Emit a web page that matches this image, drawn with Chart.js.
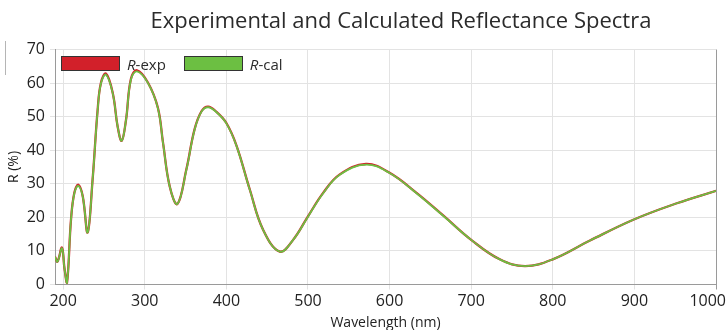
<!DOCTYPE html>
<html>
<head>
<meta charset="utf-8">
<script src="https://cdn.jsdelivr.net/npm/chart.js@4"></script>
<style>
  html, body { margin: 0; padding: 0; background: #fff; }
  #wrap { position: relative; width: 726px; height: 330px; font-family: "Open Sans", sans-serif; }
  #title {
    position: absolute; top: 4px; left: 0; width: 802px;
    text-align: center; font-size: 22px; color: #2b2b2b; white-space: nowrap;
  }
  #stray { position: absolute; left: 5px; top: 41px; width: 1px; height: 34px; background: #b5b5b5; }
  #legend { position: absolute; display: flex; align-items: center; font-size: 15px; color: #2b2b2b; }
  #legend .item { display: flex; align-items: center; margin-right: 18px; }
  #legend .box { width: 57px; height: 13px; border: 1.5px solid #333; margin-right: 7px; }
</style>
</head>
<body>
<div id="wrap">
  <canvas id="chart" width="726" height="330"></canvas>
  <div id="title">Experimental and Calculated Reflectance Spectra</div>
  <div id="stray"></div>
  <div id="legend">
    <div class="item"><span class="box" style="background:#d2202a"></span><span><i>R</i>-exp</span></div>
    <div class="item"><span class="box" style="background:#6cbf42"></span><span><i>R</i>-cal</span></div>
  </div>
</div>
<script>
// wavelength (nm)
const wavelength = [190, 193, 198.5, 201.5, 204.7, 209.6, 213.7, 218.6, 224, 230, 236, 242.3, 246.4, 252.5,
  260.7, 266.8, 271.7, 277, 283, 290.5, 304, 316, 322.4, 330.6, 340, 351, 361, 369.5, 377.6, 388, 400, 412.4, 428.7,
  445, 465.5, 481.8, 500, 518.6, 539, 571, 600, 633, 666, 700, 735, 766, 800, 845.6, 898.7, 952, 1000];

const rExp = [8.3, 6.8, 11.0, 5.0, 0.5, 19.3, 27.3, 29.7, 26.3, 15.5, 31, 52.2, 60.2, 62.8,
  57.1, 47, 42.8, 49, 61.2, 63.8, 60.1, 52.7, 42.2, 29.2, 24.0, 34.3, 46.2, 51.6, 53.0, 51.4, 48.1, 41.4, 28.3,
  16.3, 9.8, 13.3, 20.3, 27.3, 32.8, 35.9, 33.3, 27.3, 20.5, 13.3, 7.5, 5.5, 7.5, 13.1, 19.3, 24.2, 27.9];

const rCal = [8.3, 6.8, 10.8, 5.0, 0.5, 19.3, 27.2, 29.4, 26.2, 15.5, 31, 52, 60, 62.5,
  57, 47, 42.8, 49, 61, 63.5, 60, 52.6, 42.1, 29.2, 24.0, 34.2, 46.1, 51.5, 52.8, 51.3, 48.0, 41.3, 28.2,
  16.3, 9.8, 13.3, 20.2, 27.2, 32.7, 35.7, 33.2, 27.2, 20.4, 13.3, 7.5, 5.5, 7.5, 13.1, 19.3, 24.2, 27.9];

const xTicks = [200, 300, 400, 500, 600, 700, 800, 900, 1000];
const yTicks = [0, 10, 20, 30, 40, 50, 60, 70];

const FONT = "'Open Sans', sans-serif";
const GRID = "#e3e3e3";
const AXIS = "#9a9a9a";

function points(ys) {
  return wavelength.map((x, i) => ({ x: x, y: ys[i] }));
}

const chart = new Chart(document.getElementById("chart"), {
  type: "line",
  data: {
    datasets: [
      {
        label: "R-exp",
        data: points(rExp),
        borderColor: "#d2202a",
        borderWidth: 2.3,
        pointRadius: 0,
        tension: 0.4,
        order: 2,
      },
      {
        label: "R-cal",
        data: points(rCal),
        borderColor: "#6cbf42",
        borderWidth: 1.8,
        pointRadius: 0,
        tension: 0.4,
        order: 1,
      },
    ],
  },
  options: {
    responsive: false,
    animation: false,
    layout: { padding: { top: 49.5, right: 10, left: 0, bottom: 0 } },
    plugins: { legend: { display: false }, title: { display: false }, tooltip: { enabled: false } },
    scales: {
      x: {
        type: "linear",
        min: 190,
        max: 1000,
        afterBuildTicks: (s) => { s.ticks = xTicks.map((v) => ({ value: v })); },
        afterFit: (s) => { s.height = 45.5; s.paddingRight = 0; s.paddingLeft = 0; },
        grid: {
          color: (c) => (c.tick && c.tick.value === 1000 ? AXIS : GRID),
          tickLength: 5,
        },
        border: { color: AXIS },
        ticks: {
          color: "#222",
          font: { family: FONT, size: 16 },
          padding: 2,
          maxRotation: 0,
          callback: (v) => (v === 1000 ? v + "    " : v),
        },
        title: {
          display: true,
          text: "Wavelength (nm)",
          color: "#222",
          font: { family: FONT, size: 14 },
          padding: { top: 0, bottom: -1 },
        },
      },
      y: {
        min: 0,
        max: 70,
        afterBuildTicks: (s) => { s.ticks = yTicks.map((v) => ({ value: v })); },
        afterFit: (s) => { s.width = 55; },
        grid: { color: GRID, tickLength: 5 },
        border: { color: AXIS },
        ticks: { color: "#222", font: { family: FONT, size: 16 }, padding: 5 },
        title: {
          display: true,
          text: "R (%)",
          color: "#222",
          font: { family: FONT, size: 14 },
          padding: { top: 6, bottom: 0 },
        },
      },
    },
  },
});

// legend sits inside the plot, top-left
const area = chart.chartArea;
const legend = document.getElementById("legend");
legend.style.left = area.left + 6 + "px";
legend.style.top = area.top + 4 + "px";
</script>
</body>
</html>
